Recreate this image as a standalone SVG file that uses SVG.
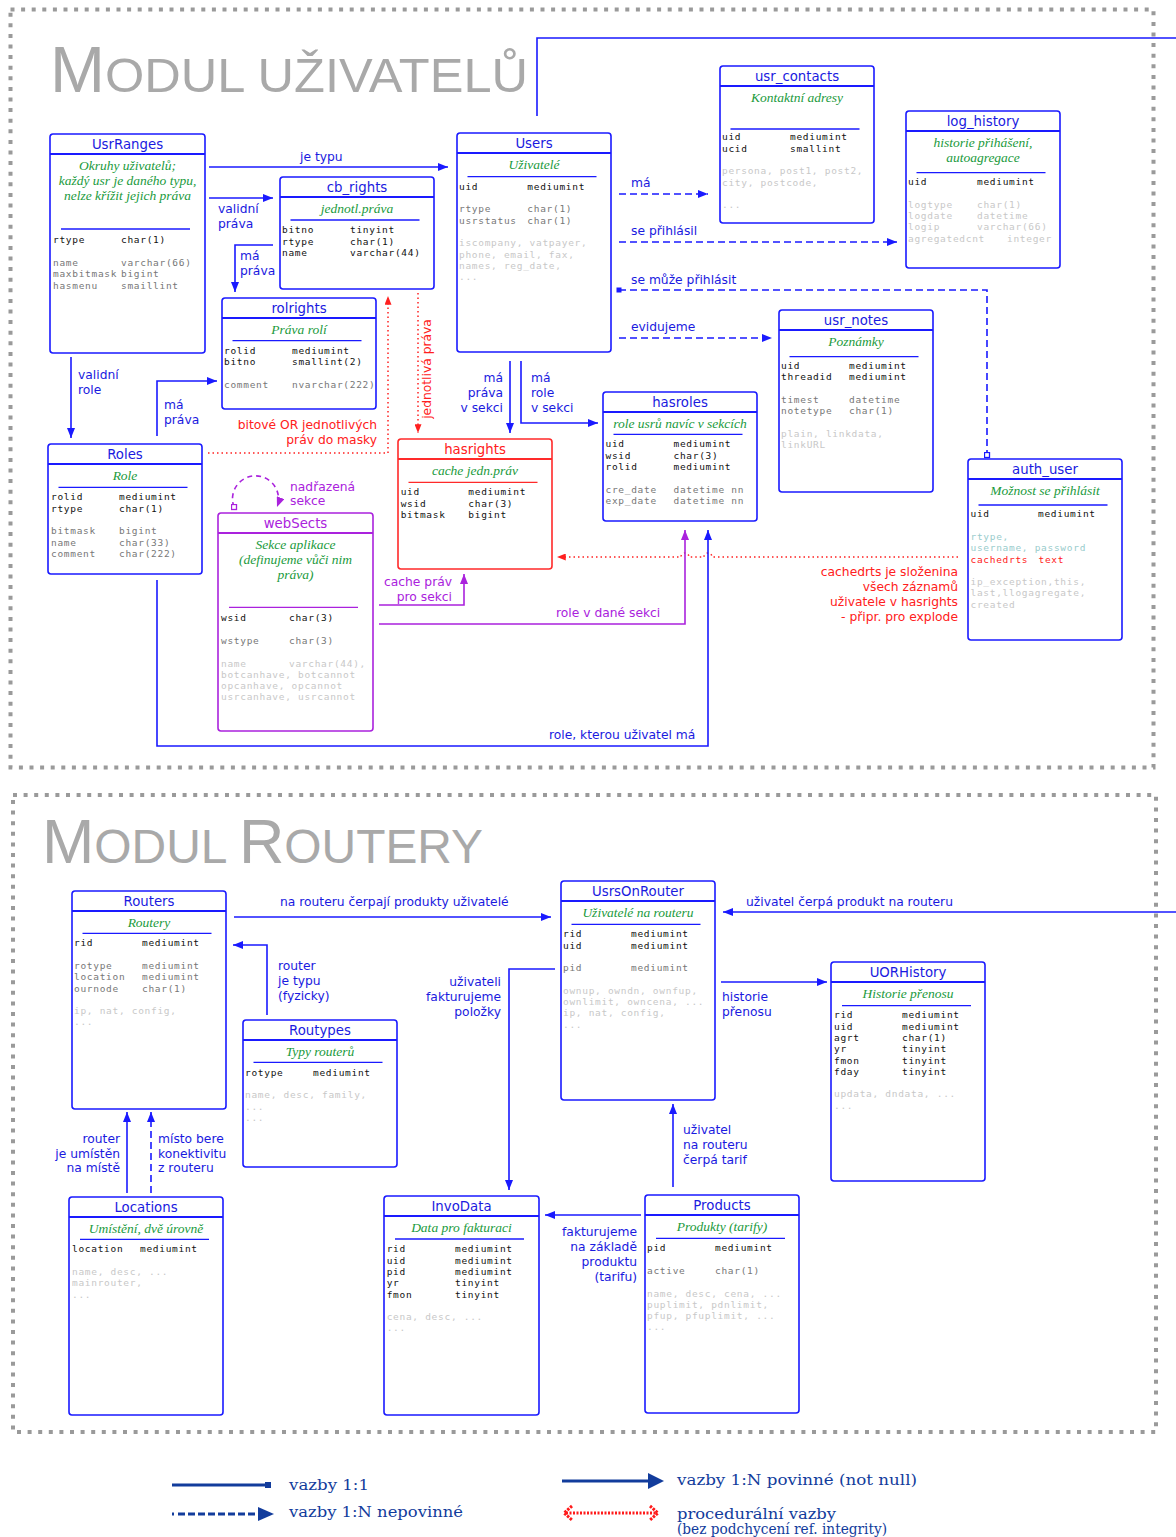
<svg xmlns="http://www.w3.org/2000/svg" width="1176" height="1537" viewBox="0 0 1176 1537">
<style>
.frame{fill:none;stroke:#9a9a9a;stroke-width:4;stroke-dasharray:4 6.6}
.title{font-family:"Liberation Sans",Arial,sans-serif;fill:#a9a9a9}
.node rect{fill:#fff;stroke:#1a1aff;stroke-width:1.6}
.node .h{stroke:#1a1aff;stroke-width:2}
.node .s{stroke:#1a1aff;stroke-width:1.3}
.red rect,.red .h,.red .s{stroke:#ff2a2a}
.pur rect,.pur .h,.pur .s{stroke:#aa22dd}
.t{font-family:"DejaVu Sans",Verdana,sans-serif;font-size:13.3px;fill:#1a1ae0;text-anchor:middle}
.red .t{fill:#ff2020}
.pur .t{fill:#aa22dd}
.d{font-family:"Liberation Serif","Times New Roman",serif;font-style:italic;font-size:13.5px;fill:#1a9a3c;text-anchor:middle}
.f{font-family:"DejaVu Sans Mono","Liberation Mono",monospace;font-size:9.5px;letter-spacing:0.7px;fill:#111}
.g{fill:#777}
.l{fill:#c8c8c8}
.q{fill:#99cccc}
.rf{fill:#ff1a1a}
.cb{fill:none;stroke:#1a1aff;stroke-width:1.6}
.cd{stroke-dasharray:7 4}
.cr{fill:none;stroke:#ff2020;stroke-width:1.5;stroke-dasharray:1.5 3}
.cp{fill:none;stroke:#aa22dd;stroke-width:1.6}
.lb{font-family:"DejaVu Sans",Verdana,sans-serif;font-size:12.3px;fill:#1a1ae0}
.lr{fill:#ff2020}
.lp{fill:#aa22dd}
.e{text-anchor:end}
.leg{font-family:"DejaVu Serif",serif;font-size:15.5px;fill:#123c9c}
</style>
<defs>
<marker id="ab" viewBox="0 0 10 8" refX="10" refY="4" markerWidth="10" markerHeight="8" markerUnits="userSpaceOnUse" orient="auto"><path d="M0,0 L10,4 L0,8 z" fill="#1a1aff"/></marker>
<marker id="ar" viewBox="0 0 10 8" refX="10" refY="4" markerWidth="9" markerHeight="7" markerUnits="userSpaceOnUse" orient="auto"><path d="M0,0 L10,4 L0,8 z" fill="#ff2020"/></marker>
<marker id="ap" viewBox="0 0 10 8" refX="10" refY="4" markerWidth="10" markerHeight="8" markerUnits="userSpaceOnUse" orient="auto"><path d="M0,0 L10,4 L0,8 z" fill="#aa22dd"/></marker>
<marker id="sqf" viewBox="0 0 6 6" refX="3" refY="3" markerWidth="6" markerHeight="6" markerUnits="userSpaceOnUse"><rect x="0.5" y="0.5" width="5" height="5" fill="#1a1aff"/></marker>
<marker id="sqo" viewBox="0 0 7 7" refX="3.5" refY="3.5" markerWidth="7" markerHeight="7" markerUnits="userSpaceOnUse"><rect x="1" y="1" width="5" height="5" fill="#fff" stroke="#1a1aff" stroke-width="1.3"/></marker>
<marker id="sqp" viewBox="0 0 7 7" refX="3.5" refY="3.5" markerWidth="7" markerHeight="7" markerUnits="userSpaceOnUse"><rect x="1" y="1" width="5" height="5" fill="#fff" stroke="#aa22dd" stroke-width="1.3"/></marker>
</defs>
<rect width="1176" height="1537" fill="#fff"/>

<g id="frames">
<rect class="frame" x="10.5" y="9.5" width="1143" height="758"/>
<rect class="frame" x="13" y="795" width="1143" height="637"/>
<text class="title" x="50" y="92" textLength="478" lengthAdjust="spacingAndGlyphs"><tspan font-size="64">M</tspan><tspan font-size="49">ODUL UŽIVATELŮ</tspan></text>
<text class="title" x="42" y="863" textLength="441" lengthAdjust="spacingAndGlyphs"><tspan font-size="63">M</tspan><tspan font-size="48">ODUL </tspan><tspan font-size="63">R</tspan><tspan font-size="48">OUTERY</tspan></text>
</g>

<g id="connectors">
<path class="cb" d="M537,116 V38 H1176"/>
<path class="cb" d="M209,167 H448" marker-end="url(#ab)"/>
<path class="cb" d="M209,198 H273" marker-end="url(#ab)"/>
<path class="cb" d="M273,245 H235 V292" marker-end="url(#ab)"/>
<path class="cb" d="M71,357 V438" marker-end="url(#ab)"/>
<path class="cb" d="M157,436 V381 H217" marker-end="url(#ab)"/>
<path class="cr" d="M208,453 H388 V296" marker-end="url(#ar)"/>
<path class="cr" d="M418,293 V433" marker-end="url(#ar)"/>
<path class="cb" d="M510,361 V433" marker-end="url(#ab)"/>
<path class="cb" d="M521,361 V423 H598" marker-end="url(#ab)"/>
<path class="cb cd" d="M619,194 H708" marker-end="url(#ab)"/>
<path class="cb cd" d="M619,242 H897" marker-end="url(#ab)"/>
<path class="cb cd" d="M619,290 H987 V455" marker-start="url(#sqf)" marker-end="url(#sqo)"/>
<path class="cb cd" d="M619,338 H772" marker-end="url(#ab)"/>
<path class="cr" d="M958,557 H712 a4,4 0 0 0 -8,0 H689 a4,4 0 0 0 -8,0 H557" marker-end="url(#ar)"/>
<path class="cp" stroke-dasharray="5 4" d="M234,507 A23,23 0 1 1 277,507" marker-start="url(#sqp)" marker-end="url(#ap)"/>
<path class="cp" d="M379,605 H464 V574" marker-end="url(#ap)"/>
<path class="cp" d="M379,624 H685 V530" marker-end="url(#ap)"/>
<path class="cb" d="M157,580 V746 H708 V530" marker-end="url(#ab)"/>

<path class="cb" d="M234,917 H551" marker-end="url(#ab)"/>
<path class="cb" d="M1176,912 H723" marker-end="url(#ab)"/>
<path class="cb" d="M267,1015 V945 H233" marker-end="url(#ab)"/>
<path class="cb" d="M127,1193 V1112" marker-end="url(#ab)"/>
<path class="cb cd" d="M151,1193 V1112" marker-end="url(#ab)"/>
<path class="cb" d="M555,969 H509 V1190" marker-end="url(#ab)"/>
<path class="cb" d="M721,982 H827" marker-end="url(#ab)"/>
<path class="cb" d="M673,1187 V1104" marker-end="url(#ab)"/>
<path class="cb" d="M641,1215 H545" marker-end="url(#ab)"/>

<text class="lb" x="300" y="161">je typu</text>
<text class="lb" x="218" y="213">validní</text>
<text class="lb" x="218" y="228">práva</text>
<text class="lb" x="240" y="260">má</text>
<text class="lb" x="240" y="275">práva</text>
<text class="lb" x="78" y="378.5">validní</text>
<text class="lb" x="78" y="393.5">role</text>
<text class="lb" x="164" y="408.5">má</text>
<text class="lb" x="164" y="423.5">práva</text>
<text class="lb e" x="503" y="381.5">má</text>
<text class="lb e" x="503" y="396.5">práva</text>
<text class="lb e" x="503" y="411.5">v sekci</text>
<text class="lb" x="531" y="381.5">má</text>
<text class="lb" x="531" y="396.5">role</text>
<text class="lb" x="531" y="411.5">v sekci</text>
<text class="lb" x="631" y="187">má</text>
<text class="lb" x="631" y="235">se přihlásil</text>
<text class="lb" x="631" y="284">se může přihlásit</text>
<text class="lb" x="631" y="331">evidujeme</text>
<text class="lb lr e" x="377" y="429">bitové OR jednotlivých</text>
<text class="lb lr e" x="377" y="444">práv do masky</text>
<text class="lb lr" transform="translate(431,369) rotate(-90)" text-anchor="middle">jednotlivá práva</text>
<text class="lb lr e" x="958" y="576">cachedrts je složenina</text>
<text class="lb lr e" x="958" y="591">všech záznamů</text>
<text class="lb lr e" x="958" y="606">uživatele v hasrights</text>
<text class="lb lr e" x="958" y="621">- připr. pro explode</text>
<text class="lb lp" x="290" y="491">nadřazená</text>
<text class="lb lp" x="290" y="505">sekce</text>
<text class="lb lp e" x="452" y="586">cache práv</text>
<text class="lb lp e" x="452" y="601">pro sekci</text>
<text class="lb lp" x="556" y="617">role v dané sekci</text>
<text class="lb" x="549" y="739">role, kterou uživatel má</text>

<text class="lb" x="280" y="906">na routeru čerpají produkty uživatelé</text>
<text class="lb" x="746" y="906">uživatel čerpá produkt na routeru</text>
<text class="lb" x="278" y="970">router</text>
<text class="lb" x="278" y="985">je typu</text>
<text class="lb" x="278" y="1000">(fyzicky)</text>
<text class="lb e" x="120" y="1143">router</text>
<text class="lb e" x="120" y="1158">je umístěn</text>
<text class="lb e" x="120" y="1172">na místě</text>
<text class="lb" x="158" y="1143">místo bere</text>
<text class="lb" x="158" y="1158">konektivitu</text>
<text class="lb" x="158" y="1172">z routeru</text>
<text class="lb e" x="501" y="986">uživateli</text>
<text class="lb e" x="501" y="1001">fakturujeme</text>
<text class="lb e" x="501" y="1016">položky</text>
<text class="lb" x="722" y="1001">historie</text>
<text class="lb" x="722" y="1016">přenosu</text>
<text class="lb" x="683" y="1134">uživatel</text>
<text class="lb" x="683" y="1149">na routeru</text>
<text class="lb" x="683" y="1164">čerpá tarif</text>
<text class="lb e" x="637" y="1236">fakturujeme</text>
<text class="lb e" x="637" y="1251">na základě</text>
<text class="lb e" x="637" y="1266">produktu</text>
<text class="lb e" x="637" y="1281">(tarifu)</text>
</g>

<g id="UsrRanges" class="node" transform="translate(50,134)">
<rect width="155" height="219" rx="3"/><line class="h" x1="0" y1="20" x2="155" y2="20"/>
<text class="t" x="77.5" y="15">UsrRanges</text>
<text class="d" x="77.5" y="36">Okruhy uživatelů;</text>
<text class="d" x="77.5" y="51">každý usr je daného typu,</text>
<text class="d" x="77.5" y="66">nelze křížit jejich práva</text>
<line class="s" x1="11" y1="95" x2="140" y2="95"/>
<text class="f" x="3" y="109.3">rtype</text><text class="f" x="71" y="109.3">char(1)</text>
<text class="f g" x="3" y="131.9">name</text><text class="f g" x="71" y="131.9">varchar(66)</text>
<text class="f g" x="3" y="143.2">maxbitmask</text><text class="f g" x="71" y="143.2">bigint</text>
<text class="f g" x="3" y="154.5">hasmenu</text><text class="f g" x="71" y="154.5">smaillint</text>
</g>

<g id="cb_rights" class="node" transform="translate(280,177)">
<rect width="154" height="112" rx="3"/><line class="h" x1="0" y1="20" x2="154" y2="20"/>
<text class="t" x="77" y="15">cb_rights</text>
<text class="d" x="77" y="36">jednotl.práva</text>
<line class="s" x1="10.5" y1="43" x2="139.5" y2="43"/>
<text class="f" x="2" y="56.3">bitno</text><text class="f" x="70" y="56.3">tinyint</text>
<text class="f" x="2" y="67.6">rtype</text><text class="f" x="70" y="67.6">char(1)</text>
<text class="f" x="2" y="78.9">name</text><text class="f" x="70" y="78.9">varchar(44)</text>
</g>

<g id="rolrights" class="node" transform="translate(222,298)">
<rect width="154" height="111" rx="3"/><line class="h" x1="0" y1="20" x2="154" y2="20"/>
<text class="t" x="77" y="15">rolrights</text>
<text class="d" x="77" y="36">Práva rolí</text>
<line class="s" x1="10.5" y1="42.7" x2="139.5" y2="42.7"/>
<text class="f" x="2" y="55.7">rolid</text><text class="f" x="70" y="55.7">mediumint</text>
<text class="f" x="2" y="67">bitno</text><text class="f" x="70" y="67">smallint(2)</text>
<text class="f g" x="2" y="89.6">comment</text><text class="f g" x="70" y="89.6">nvarchar(222)</text>
</g>

<g id="Users" class="node" transform="translate(457,133)">
<rect width="154" height="219" rx="3"/><line class="h" x1="0" y1="20" x2="154" y2="20"/>
<text class="t" x="77" y="15">Users</text>
<text class="d" x="77" y="36">Uživatelé</text>
<line class="s" x1="10.5" y1="43.7" x2="139.5" y2="43.7"/>
<text class="f" x="2" y="56.7">uid</text><text class="f" x="70.3" y="56.7">mediumint</text>
<text class="f g" x="2" y="79.3">rtype</text><text class="f g" x="70.3" y="79.3">char(1)</text>
<text class="f g" x="2" y="90.6">usrstatus</text><text class="f g" x="70.3" y="90.6">char(1)</text>
<text class="f l" x="2" y="113.2">iscompany, vatpayer,</text>
<text class="f l" x="2" y="124.5">phone, email, fax,</text>
<text class="f l" x="2" y="135.8">names, reg_date,</text>
<text class="f l" x="2" y="147.1">...</text>
</g>

<g id="usr_contacts" class="node" transform="translate(720,66)">
<rect width="154" height="157" rx="3"/><line class="h" x1="0" y1="20" x2="154" y2="20"/>
<text class="t" x="77" y="15">usr_contacts</text>
<text class="d" x="77" y="36">Kontaktní adresy</text>
<line class="s" x1="10.5" y1="63" x2="139.5" y2="63"/>
<text class="f" x="2" y="74.3">uid</text><text class="f" x="70" y="74.3">mediumint</text>
<text class="f" x="2" y="85.6">ucid</text><text class="f" x="70" y="85.6">smallint</text>
<text class="f l" x="2" y="108.2">persona, post1, post2,</text>
<text class="f l" x="2" y="119.5">city, postcode,</text>
<text class="f l" x="2" y="142.1">...</text>
</g>

<g id="log_history" class="node" transform="translate(906,111)">
<rect width="154" height="157" rx="3"/><line class="h" x1="0" y1="20" x2="154" y2="20"/>
<text class="t" x="77" y="15">log_history</text>
<text class="d" x="77" y="36">historie přihášení,</text>
<text class="d" x="77" y="51">autoagregace</text>
<line class="s" x1="10.5" y1="61.7" x2="139.5" y2="61.7"/>
<text class="f" x="2" y="74">uid</text><text class="f" x="71" y="74">mediumint</text>
<text class="f l" x="2" y="96.6">logtype</text><text class="f l" x="71" y="96.6">char(1)</text>
<text class="f l" x="2" y="107.9">logdate</text><text class="f l" x="71" y="107.9">datetime</text>
<text class="f l" x="2" y="119.2">logip</text><text class="f l" x="71" y="119.2">varchar(66)</text>
<text class="f l" x="2" y="130.5">agregatedcnt</text><text class="f l" x="101" y="130.5">integer</text>
</g>

<g id="usr_notes" class="node" transform="translate(779,310)">
<rect width="154" height="182" rx="3"/><line class="h" x1="0" y1="20" x2="154" y2="20"/>
<text class="t" x="77" y="15">usr_notes</text>
<text class="d" x="77" y="36">Poznámky</text>
<line class="s" x1="10.5" y1="46.7" x2="139.5" y2="46.7"/>
<text class="f" x="2" y="58.7">uid</text><text class="f" x="70" y="58.7">mediumint</text>
<text class="f" x="2" y="70">threadid</text><text class="f" x="70" y="70">mediumint</text>
<text class="f g" x="2" y="92.6">timest</text><text class="f g" x="70" y="92.6">datetime</text>
<text class="f g" x="2" y="103.9">notetype</text><text class="f g" x="70" y="103.9">char(1)</text>
<text class="f l" x="2" y="126.5">plain, linkdata,</text>
<text class="f l" x="2" y="137.8">linkURL</text>
</g>

<g id="auth_user" class="node" transform="translate(968,459)">
<rect width="154" height="181" rx="3"/><line class="h" x1="0" y1="20" x2="154" y2="20"/>
<text class="t" x="77" y="15">auth_user</text>
<text class="d" x="77" y="36">Možnost se přihlásit</text>
<line class="s" x1="10.5" y1="46" x2="139.5" y2="46"/>
<text class="f" x="2.5" y="58.3">uid</text><text class="f" x="70" y="58.3">mediumint</text>
<text class="f q" x="2.5" y="80.9">rtype,</text>
<text class="f q" x="2.5" y="92.2">username, password</text>
<text class="f rf" x="2.5" y="103.5">cachedrts</text><text class="f rf" x="70.5" y="103.5">text</text>
<text class="f l" x="2.5" y="126.1">ip_exception,this,</text>
<text class="f l" x="2.5" y="137.4">last,llogagregate,</text>
<text class="f l" x="2.5" y="148.7">created</text>
</g>

<g id="Roles" class="node" transform="translate(48,444)">
<rect width="154" height="130" rx="3"/><line class="h" x1="0" y1="20" x2="154" y2="20"/>
<text class="t" x="77" y="15">Roles</text>
<text class="d" x="77" y="36">Role</text>
<line class="s" x1="10.5" y1="43.3" x2="139.5" y2="43.3"/>
<text class="f" x="3" y="56.3">rolid</text><text class="f" x="71" y="56.3">mediumint</text>
<text class="f" x="3" y="67.6">rtype</text><text class="f" x="71" y="67.6">char(1)</text>
<text class="f g" x="3" y="90.2">bitmask</text><text class="f g" x="71" y="90.2">bigint</text>
<text class="f g" x="3" y="101.5">name</text><text class="f g" x="71" y="101.5">char(33)</text>
<text class="f g" x="3" y="112.8">comment</text><text class="f g" x="71" y="112.8">char(222)</text>
</g>

<g id="webSects" class="node pur" transform="translate(218,513)">
<rect width="155" height="218" rx="3"/><line class="h" x1="0" y1="20" x2="155" y2="20"/>
<text class="t" x="77.5" y="15">webSects</text>
<text class="d" x="77.5" y="35.5">Sekce aplikace</text>
<text class="d" x="77.5" y="50.5">(definujeme vůči nim</text>
<text class="d" x="77.5" y="65.5">práva)</text>
<line class="s" x1="11" y1="94.3" x2="140" y2="94.3"/>
<text class="f" x="3" y="108.3">wsid</text><text class="f" x="71" y="108.3">char(3)</text>
<text class="f g" x="3" y="130.9">wstype</text><text class="f g" x="71" y="130.9">char(3)</text>
<text class="f l" x="3" y="153.5">name</text><text class="f l" x="71" y="153.5">varchar(44),</text>
<text class="f l" x="3" y="164.8">botcanhave, botcannot</text>
<text class="f l" x="3" y="176.1">opcanhave, opcannot</text>
<text class="f l" x="3" y="187.4">usrcanhave, usrcannot</text>
</g>

<g id="hasrights" class="node red" transform="translate(398,439)">
<rect width="154" height="130" rx="3"/><line class="h" x1="0" y1="20" x2="154" y2="20"/>
<text class="t" x="77" y="15">hasrights</text>
<text class="d" x="77" y="36">cache jedn.práv</text>
<line class="s" x1="10.5" y1="43.3" x2="139.5" y2="43.3"/>
<text class="f" x="2.7" y="56.3">uid</text><text class="f" x="70.3" y="56.3">mediumint</text>
<text class="f" x="2.7" y="67.6">wsid</text><text class="f" x="70.3" y="67.6">char(3)</text>
<text class="f" x="2.7" y="78.9">bitmask</text><text class="f" x="70.3" y="78.9">bigint</text>
</g>

<g id="hasroles" class="node" transform="translate(603,392)">
<rect width="154" height="129" rx="3"/><line class="h" x1="0" y1="20" x2="154" y2="20"/>
<text class="t" x="77" y="15">hasroles</text>
<text class="d" x="77" y="35.5">role usrů navíc v sekcích</text>
<line class="s" x1="10.5" y1="42.3" x2="139.5" y2="42.3"/>
<text class="f" x="2.5" y="55.3">uid</text><text class="f" x="70.5" y="55.3">mediumint</text>
<text class="f" x="2.5" y="66.6">wsid</text><text class="f" x="70.5" y="66.6">char(3)</text>
<text class="f" x="2.5" y="77.9">rolid</text><text class="f" x="70.5" y="77.9">mediumint</text>
<text class="f g" x="2.5" y="100.5">cre_date</text><text class="f g" x="70.5" y="100.5">datetime nn</text>
<text class="f g" x="2.5" y="111.8">exp_date</text><text class="f g" x="70.5" y="111.8">datetime nn</text>
</g>

<g id="Routers" class="node" transform="translate(72,891)">
<rect width="154" height="218" rx="3"/><line class="h" x1="0" y1="20" x2="154" y2="20"/>
<text class="t" x="77" y="15">Routers</text>
<text class="d" x="77" y="36">Routery</text>
<line class="s" x1="10.5" y1="42.3" x2="139.5" y2="42.3"/>
<text class="f" x="2" y="55.3">rid</text><text class="f" x="70" y="55.3">mediumint</text>
<text class="f g" x="2" y="77.9">rotype</text><text class="f g" x="70" y="77.9">mediumint</text>
<text class="f g" x="2" y="89.2">location</text><text class="f g" x="70" y="89.2">mediumint</text>
<text class="f g" x="2" y="100.5">ournode</text><text class="f g" x="70" y="100.5">char(1)</text>
<text class="f l" x="2" y="123.1">ip, nat, config,</text>
<text class="f l" x="2" y="134.4">...</text>
</g>

<g id="Routypes" class="node" transform="translate(243,1020)">
<rect width="154" height="147" rx="3"/><line class="h" x1="0" y1="20" x2="154" y2="20"/>
<text class="t" x="77" y="15">Routypes</text>
<text class="d" x="77" y="36">Typy routerů</text>
<line class="s" x1="10.5" y1="42.3" x2="139.5" y2="42.3"/>
<text class="f" x="2" y="55.7">rotype</text><text class="f" x="70" y="55.7">mediumint</text>
<text class="f l" x="2" y="78.3">name, desc, family,</text>
<text class="f l" x="2" y="89.6">...</text>
<text class="f l" x="2" y="100.9">...</text>
</g>

<g id="UsrsOnRouter" class="node" transform="translate(561,881)">
<rect width="154" height="219" rx="3"/><line class="h" x1="0" y1="20" x2="154" y2="20"/>
<text class="t" x="77" y="15">UsrsOnRouter</text>
<text class="d" x="77" y="36">Uživatelé na routeru</text>
<line class="s" x1="10.5" y1="43.3" x2="139.5" y2="43.3"/>
<text class="f" x="2" y="56.3">rid</text><text class="f" x="70" y="56.3">mediumint</text>
<text class="f" x="2" y="67.6">uid</text><text class="f" x="70" y="67.6">mediumint</text>
<text class="f g" x="2" y="90.2">pid</text><text class="f g" x="70" y="90.2">mediumint</text>
<text class="f l" x="2" y="112.8">ownup, owndn, ownfup,</text>
<text class="f l" x="2" y="124.1">ownlimit, owncena, ...</text>
<text class="f l" x="2" y="135.4">ip, nat, config,</text>
<text class="f l" x="2" y="146.7">...</text>
</g>

<g id="UORHistory" class="node" transform="translate(831,962)">
<rect width="154" height="219" rx="3"/><line class="h" x1="0" y1="20" x2="154" y2="20"/>
<text class="t" x="77" y="15">UORHistory</text>
<text class="d" x="77" y="36">Historie přenosu</text>
<line class="s" x1="11" y1="43.7" x2="140" y2="43.7"/>
<text class="f" x="3" y="56.3">rid</text><text class="f" x="71" y="56.3">mediumint</text>
<text class="f" x="3" y="67.6">uid</text><text class="f" x="71" y="67.6">mediumint</text>
<text class="f" x="3" y="78.9">agrt</text><text class="f" x="71" y="78.9">char(1)</text>
<text class="f" x="3" y="90.2">yr</text><text class="f" x="71" y="90.2">tinyint</text>
<text class="f" x="3" y="101.5">fmon</text><text class="f" x="71" y="101.5">tinyint</text>
<text class="f" x="3" y="112.8">fday</text><text class="f" x="71" y="112.8">tinyint</text>
<text class="f l" x="3" y="135.4">updata, dndata, ...</text>
<text class="f l" x="3" y="146.7">...</text>
</g>

<g id="Locations" class="node" transform="translate(69,1197)">
<rect width="154" height="218" rx="3"/><line class="h" x1="0" y1="20" x2="154" y2="20"/>
<text class="t" x="77" y="15">Locations</text>
<text class="d" x="77" y="36">Umístění, dvě úrovně</text>
<line class="s" x1="11" y1="42.3" x2="140" y2="42.3"/>
<text class="f" x="3" y="55.3">location</text><text class="f" x="71" y="55.3">mediumint</text>
<text class="f l" x="3" y="77.9">name, desc, ...</text>
<text class="f l" x="3" y="89.2">mainrouter,</text>
<text class="f l" x="3" y="100.5">...</text>
</g>

<g id="InvoData" class="node" transform="translate(384,1196)">
<rect width="155" height="219" rx="3"/><line class="h" x1="0" y1="20" x2="155" y2="20"/>
<text class="t" x="77.5" y="15">InvoData</text>
<text class="d" x="77.5" y="36">Data pro fakturaci</text>
<line class="s" x1="11" y1="43" x2="140" y2="43"/>
<text class="f" x="2.7" y="56.3">rid</text><text class="f" x="71" y="56.3">mediumint</text>
<text class="f" x="2.7" y="67.6">uid</text><text class="f" x="71" y="67.6">mediumint</text>
<text class="f" x="2.7" y="78.9">pid</text><text class="f" x="71" y="78.9">mediumint</text>
<text class="f" x="2.7" y="90.2">yr</text><text class="f" x="71" y="90.2">tinyint</text>
<text class="f" x="2.7" y="101.5">fmon</text><text class="f" x="71" y="101.5">tinyint</text>
<text class="f l" x="2.7" y="124.1">cena, desc, ...</text>
<text class="f l" x="2.7" y="135.4">...</text>
</g>

<g id="Products" class="node" transform="translate(645,1195)">
<rect width="154" height="218" rx="3"/><line class="h" x1="0" y1="20" x2="154" y2="20"/>
<text class="t" x="77" y="15">Products</text>
<text class="d" x="77" y="36">Produkty (tarify)</text>
<line class="s" x1="11" y1="43.3" x2="140" y2="43.3"/>
<text class="f" x="2" y="56.3">pid</text><text class="f" x="70" y="56.3">mediumint</text>
<text class="f g" x="2" y="78.9">active</text><text class="f g" x="70" y="78.9">char(1)</text>
<text class="f l" x="2" y="101.5">name, desc, cena, ...</text>
<text class="f l" x="2" y="112.8">puplimit, pdnlimit,</text>
<text class="f l" x="2" y="124.1">pfup, pfuplimit, ...</text>
<text class="f l" x="2" y="135.4">...</text>
</g>

<g id="legend">
<path d="M172,1485 H267" stroke="#123c9c" stroke-width="3" fill="none"/>
<rect x="265" y="1482" width="6" height="6" fill="#123c9c"/>
<text class="leg" x="289" y="1490" textLength="80" lengthAdjust="spacingAndGlyphs">vazby 1:1</text>
<path d="M172,1514 H174 M178,1514 H260" stroke="#123c9c" stroke-width="3" fill="none" stroke-dasharray="7 3"/>
<path d="M258,1507 L274,1514 L258,1521 z" fill="#123c9c"/>
<text class="leg" x="289" y="1517" textLength="174" lengthAdjust="spacingAndGlyphs">vazby 1:N nepovinné</text>
<path d="M562,1481 H650" stroke="#123c9c" stroke-width="3" fill="none"/>
<path d="M648,1473 L664,1481 L648,1489 z" fill="#123c9c"/>
<text class="leg" x="677" y="1485" textLength="240" lengthAdjust="spacingAndGlyphs">vazby 1:N povinné (not null)</text>
<path d="M566,1513 H657" stroke="#ff1a1a" stroke-width="3" fill="none" stroke-dasharray="2 1.5"/>
<path d="M572,1506 L564,1513 L572,1520 M650,1506 L658,1513 L650,1520" stroke="#ff1a1a" stroke-width="3" fill="none" stroke-dasharray="2.5 1.2"/>
<text class="leg" x="677" y="1519" textLength="159" lengthAdjust="spacingAndGlyphs">procedurální vazby</text>
<text class="leg" x="677" y="1534" font-size="12.5" textLength="210" lengthAdjust="spacingAndGlyphs">(bez podchycení ref. integrity)</text>
</g>
</svg>
